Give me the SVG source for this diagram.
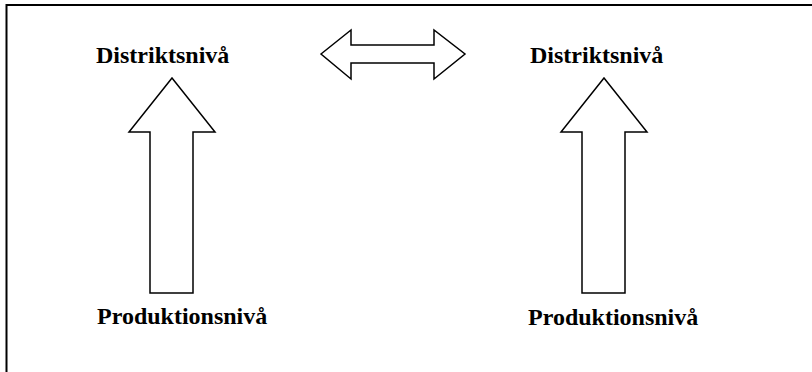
<svg xmlns="http://www.w3.org/2000/svg" width="812" height="372" viewBox="0 0 812 372">
  <style>
    .label { font-family: "Liberation Serif", "Times New Roman", serif; font-weight: bold; font-size: 24px; fill: #000; }
    .block { fill: #fff; stroke: #000; stroke-width: 1.5; stroke-linejoin: miter; }
    .frame { fill: none; stroke: #000; stroke-width: 2; }
  </style>
  <rect width="812" height="372" fill="#fff"/>
  <!-- frame: top and left edges -->
  <path class="frame" d="M6.5,372 V5 H812"/>

  <g id="district-left">
    <text class="label" x="96" y="63">Distriktsnivå</text>
  </g>
  <g id="district-right">
    <text class="label" x="530" y="63">Distriktsnivå</text>
  </g>
  <g id="production-left">
    <text class="label" x="97" y="324">Produktionsnivå</text>
  </g>
  <g id="production-right">
    <text class="label" x="528" y="325">Produktionsnivå</text>
  </g>

  <g id="connectors">
    <!-- block arrow: production to district, left -->
    <path class="block" d="M172,78 L215,132 H193 V293 H150 V132 H129 Z"/>
    <!-- block arrow: production to district, right -->
    <path class="block" d="M604,78 L647,132 H625 V293 H582 V132 H561 Z"/>
    <!-- two-way block arrow between districts -->
    <path class="block" d="M321,54 L351,30 V45 H434 V30 L465,54 L434,79 V63 H351 V79 Z"/>
  </g>
</svg>
